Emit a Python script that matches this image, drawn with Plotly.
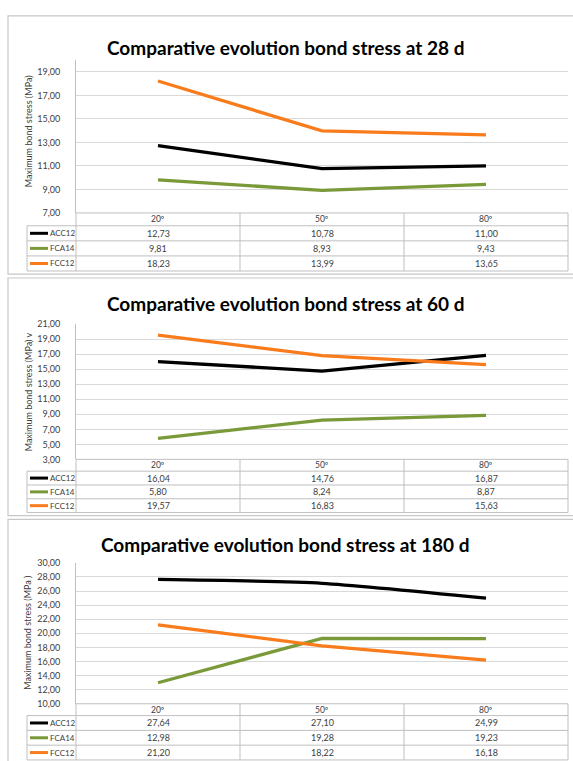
import plotly.graph_objects as go

# ---- data -------------------------------------------------------------
categories = ["20º", "50º", "80º"]
series_names = ["ACC12", "FCA14", "FCC12"]

titles = [
    "Comparative evolution bond stress at 28 d",
    "Comparative evolution bond stress at 60 d",
    "Comparative evolution bond stress at 180 d",
]
y_titles = [
    "Maximum bond stress (MPa)",
    "Maximum bond stress (MPa) v",
    "Maximum bond stress (MPa )",
]

acc12_28 = [12.73, 10.78, 11.00]
fca14_28 = [9.81, 8.93, 9.43]
fcc12_28 = [18.23, 13.99, 13.65]

acc12_60 = [16.04, 14.76, 16.87]
fca14_60 = [5.80, 8.24, 8.87]
fcc12_60 = [19.57, 16.83, 15.63]

acc12_180 = [27.64, 27.10, 24.99]
fca14_180 = [12.98, 19.28, 19.23]
fcc12_180 = [21.20, 18.22, 16.18]

y_ranges = [(7, 20), (3, 21), (10, 30)]
y_step = 2

# ---- styling / layout --------------------------------------------------
W, H = 573, 761
colors = {"ACC12": "#000000", "FCA14": "#7A9A3A", "FCC12": "#F97C1C"}
grid_col = "#D9D9D9"
table_col = "#BFBFBF"
text_col = "#404040"
FONT = "Lato"

PLOT_L, PLOT_R = 76, 568        # plot / table horizontal extent (px)
LEG_L = 27                      # left edge of legend column (px)

# per panel: plot top/bottom, header and row heights, title y, axis-title y, frame top/bottom (px)
panels = [
    dict(top=55, bottom=210, head=13, row=15.3, ty=42, aty=127, b0=10, b1=272),
    dict(top=323, bottom=460, head=12, row=14, ty=302, aty=392, b0=276, b1=517),
    dict(top=565, bottom=708, head=12, row=15, ty=546, aty=636, b0=521, b1=790),
]

data = [
    [acc12_28, fca14_28, fcc12_28],
    [acc12_60, fca14_60, fcc12_60],
    [acc12_180, fca14_180, fcc12_180],
]


def fx(px):
    return px / W


def fy(py):
    return 1 - py / H


def fmt(v):
    return f"{v:.2f}".replace(".", ",")


fig = go.Figure()
shapes = []
annotations = []

for i, (p, vals) in enumerate(zip(panels, data)):
    n = "" if i == 0 else str(i + 1)
    xa, ya = "x" + n, "y" + n
    lo, hi = y_ranges[i]

    for name, v in zip(series_names, vals):
        fig.add_trace(go.Scatter(
            x=categories, y=v, mode="lines", name=name,
            line=dict(color=colors[name], width=3.3,
                      shape="spline" if (i == 2 and name == "ACC12") else "linear",
                      smoothing=0.6),
            xaxis=xa, yaxis=ya, showlegend=False, hoverinfo="skip",
        ))

    fig.update_layout(**{
        "xaxis" + n: dict(
            domain=[fx(PLOT_L), fx(PLOT_R)], range=[-0.5, 2.5],
            type="category", anchor=ya, showticklabels=False,
            showgrid=False, zeroline=False, showline=False,
        ),
        "yaxis" + n: dict(
            domain=[fy(p["bottom"]), fy(p["top"])], range=[lo, hi],
            anchor=xa, tickvals=list(range(lo, hi + 1, y_step)),
            tickformat=".2f", showgrid=True, gridcolor=grid_col, gridwidth=1,
            zeroline=False, showline=True, linecolor=table_col, linewidth=1,
            ticks="", ticklabelstandoff=13,
            tickfont=dict(family=FONT, size=9, color=text_col),
        ),
    })

    # panel frame
    shapes.append(dict(type="rect", xref="paper", yref="paper",
                       x0=fx(8), x1=fx(600), y0=fy(p["b1"]), y1=fy(p["b0"]),
                       line=dict(color="#C8C8C8", width=1.2), layer="below"))

    # title
    annotations.append(dict(text=f"<b>{titles[i]}</b>", xref="paper", yref="paper",
                            x=fx(285), y=fy(p["ty"]), showarrow=False,
                            font=dict(family=FONT, size=19, color="#000000"),
                            xanchor="center", yanchor="middle"))
    # axis title
    annotations.append(dict(text=y_titles[i], xref="paper", yref="paper",
                            x=fx(28), y=fy(p["aty"]), showarrow=False, textangle=-90,
                            font=dict(family=FONT, size=9, color=text_col),
                            xanchor="center", yanchor="middle"))

    # ---- data table below the plot ----
    t0 = p["bottom"]
    h_bot = t0 + p["head"]
    row_edges = [h_bot + k * p["row"] for k in range(len(series_names) + 1)]
    t_end = row_edges[-1]
    col_w = (PLOT_R - PLOT_L) / len(categories)

    def hline(x0, x1, y):
        shapes.append(dict(type="line", xref="paper", yref="paper",
                           x0=fx(x0), x1=fx(x1), y0=fy(y), y1=fy(y),
                           line=dict(color=table_col, width=1)))

    def vline(x, y0, y1):
        shapes.append(dict(type="line", xref="paper", yref="paper",
                           x0=fx(x), x1=fx(x), y0=fy(y0), y1=fy(y1),
                           line=dict(color=table_col, width=1)))

    hline(PLOT_L, PLOT_R, t0)
    for y in row_edges:
        hline(LEG_L, PLOT_R, y)
    vline(LEG_L, h_bot, t_end)
    vline(PLOT_L, t0, t_end)
    for k in range(1, len(categories) + 1):
        vline(PLOT_L + k * col_w, t0, t_end)

    for k, c in enumerate(categories):
        annotations.append(dict(text=c, xref="paper", yref="paper",
                                x=fx(PLOT_L + (k + 0.5) * col_w), y=fy((t0 + h_bot) / 2),
                                showarrow=False, font=dict(family=FONT, size=8.5, color=text_col),
                                xanchor="center", yanchor="middle"))

    for r, (name, v) in enumerate(zip(series_names, vals)):
        yc = (row_edges[r] + row_edges[r + 1]) / 2
        shapes.append(dict(type="line", xref="paper", yref="paper",
                           x0=fx(30), x1=fx(48), y0=fy(yc), y1=fy(yc),
                           line=dict(color=colors[name], width=3)))
        annotations.append(dict(text=name, xref="paper", yref="paper",
                                x=fx(47.5), y=fy(yc), showarrow=False,
                                font=dict(family=FONT, size=8, color=text_col),
                                xanchor="left", yanchor="middle"))
        for k, val in enumerate(v):
            annotations.append(dict(text=fmt(val), xref="paper", yref="paper",
                                    x=fx(PLOT_L + (k + 0.5) * col_w), y=fy(yc),
                                    showarrow=False,
                                    font=dict(family=FONT, size=9, color=text_col),
                                    xanchor="center", yanchor="middle"))

# white backing behind the 60 d title where it overlaps the top gridline
shapes.append(dict(type="rect", xref="paper", yref="paper",
                   x0=fx(93), x1=fx(427), y0=fy(326), y1=fy(320),
                   fillcolor="white", line=dict(width=0), layer="above"))

fig.update_layout(
    width=W, height=H, margin=dict(l=0, r=0, t=0, b=0),
    paper_bgcolor="white", plot_bgcolor="white",
    separators=",.", shapes=shapes, annotations=annotations,
    showlegend=False,
)

fig.write_html("out.html")
